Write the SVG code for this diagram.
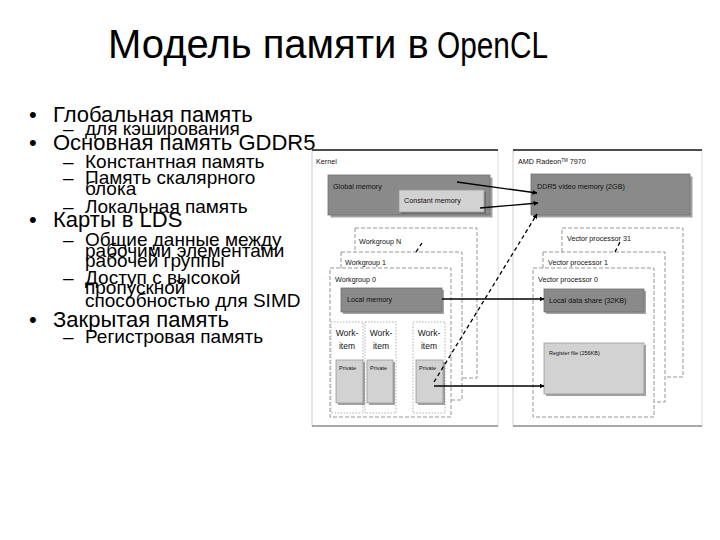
<svg xmlns="http://www.w3.org/2000/svg" width="720" height="540" viewBox="0 0 720 540">
<style>
text{font-family:"Liberation Sans",Arial,sans-serif;fill:#000}
.b{font-size:22px}
.s{font-size:19px}
.lab{font-size:7.2px;fill:#111}
.wi{font-size:8.5px;fill:#111;text-anchor:middle}
.pv{font-size:5.5px;fill:#111}
.dark{fill:#8a8a8a;stroke:#6f6f6f;stroke-width:0.8}
.light{fill:#d2d2d2;stroke:#9a9a9a;stroke-width:0.8}
.sh{fill:#555;opacity:0.55}
.dash{fill:#fff;stroke:#8a8a8a;stroke-width:0.9;stroke-dasharray:4 2}
.dot{fill:none;stroke:#a0a0a0;stroke-width:0.8;stroke-dasharray:1.5 1.5}
.con{stroke:#000;stroke-width:1.3;fill:none}
.cond{stroke:#000;stroke-width:1.3;fill:none;stroke-dasharray:4 3}
</style>
<defs>
<marker id="ah" viewBox="0 0 10 10" refX="9" refY="5" markerWidth="5" markerHeight="5" orient="auto" markerUnits="userSpaceOnUse">
<path d="M0,0 L10,5 L0,10 z" fill="#000"/>
</marker>
</defs>
<rect width="720" height="540" fill="#fff"/>

<g id="title">
<text x="108" y="58" font-size="40">Модель памяти в </text>
<text x="437" y="58" font-size="37" textLength="111" lengthAdjust="spacingAndGlyphs">OpenCL</text>
</g>

<g id="bullets">
<text x="29" y="122" class="b">•</text><text x="53" y="122" class="b">Глобальная память</text>
<text x="63" y="135" class="s">–</text><text x="85" y="135" class="s">для кэширования</text>
<text x="29" y="150" class="b">•</text><text x="53" y="150" class="b">Основная память GDDR5</text>
<text x="63" y="168" class="s">–</text><text x="85" y="168" class="s">Константная память</text>
<text x="63" y="184" class="s">–</text><text x="85" y="184" class="s">Память скалярного</text>
<text x="85" y="195" class="s">блока</text>
<text x="63" y="213" class="s">–</text><text x="85" y="213" class="s">Локальная память</text>
<text x="29" y="227" class="b">•</text><text x="53" y="227" class="b">Карты в LDS</text>
<text x="63" y="246" class="s">–</text><text x="85" y="246" class="s">Общие данные между</text>
<text x="85" y="256.5" class="s">рабочими элементами</text>
<text x="85" y="267" class="s">рабочей группы</text>
<text x="63" y="284" class="s">–</text><text x="85" y="284" class="s">Доступ с высокой</text>
<text x="85" y="293.5" class="s">пропускной</text>
<text x="85" y="307" class="s">способностью для SIMD</text>
<text x="29" y="326.5" class="b">•</text><text x="53" y="326.5" class="b">Закрытая память</text>
<text x="63" y="343" class="s">–</text><text x="85" y="343" class="s">Регистровая память</text>
</g>

<g id="kernel-panel">
<line x1="312" y1="150" x2="312" y2="426" stroke="#ccc" stroke-width="1"/>
<line x1="498" y1="150" x2="498" y2="426" stroke="#ddd" stroke-width="1"/>
<line x1="312" y1="150" x2="498" y2="150" stroke="#111" stroke-width="1.5"/>
<line x1="312" y1="426" x2="498" y2="426" stroke="#555" stroke-width="1.2"/>
<text x="316" y="164" class="lab">Kernel</text>
</g>

<g id="global-memory">
<rect x="330.5" y="177.5" width="162" height="40" class="sh"/>
<rect x="328" y="175" width="162" height="40" class="dark"/>
<text x="333" y="189" class="lab">Global memory</text>
</g>
<g id="constant-memory">
<rect x="401" y="192" width="85" height="22" class="sh"/>
<rect x="399" y="190" width="85" height="22" class="light"/>
<text x="404" y="203" class="lab">Constant memory</text>
</g>

<g id="workgroup-n">
<rect x="355" y="228" width="122" height="150" class="dash"/>
<text x="359" y="244" class="lab">Workgroup N</text>
</g>
<g id="workgroup-1">
<rect x="341" y="252" width="121" height="148" class="dash"/>
<text x="345" y="265" class="lab">Workgroup 1</text>
</g>
<g id="workgroup-0">
<rect x="330" y="268" width="121" height="149" class="dash"/>
<text x="335" y="282" class="lab">Workgroup 0</text>
</g>
<g id="local-memory">
<rect x="343" y="290" width="101" height="24" class="sh"/>
<rect x="341" y="288" width="101" height="24" class="dark"/>
<text x="347" y="302" class="lab">Local memory</text>
</g>

<g id="work-item-1">
<rect x="331" y="322" width="32" height="91" class="dot"/>
<text x="347" y="336" class="wi">Work-</text>
<text x="347" y="349" class="wi">item</text>
<rect x="338" y="362" width="27" height="43" class="sh"/>
<rect x="336" y="360" width="27" height="43" class="light"/>
<text x="339" y="370" class="pv">Private</text>
</g>
<g id="work-item-2">
<rect x="365" y="322" width="31" height="91" class="dot"/>
<text x="381" y="336" class="wi">Work-</text>
<text x="381" y="349" class="wi">item</text>
<rect x="369" y="362" width="26" height="43" class="sh"/>
<rect x="367" y="360" width="26" height="43" class="light"/>
<text x="370" y="370" class="pv">Private</text>
</g>
<g id="work-item-n">
<rect x="413" y="322" width="32" height="91" class="dot"/>
<text x="429" y="336" class="wi">Work-</text>
<text x="429" y="349" class="wi">item</text>
<rect x="418" y="362" width="27" height="43" class="sh"/>
<rect x="416" y="360" width="27" height="43" class="light"/>
<text x="419" y="370" class="pv">Private</text>
</g>

<g id="gpu-panel">
<line x1="513" y1="150" x2="513" y2="426" stroke="#ccc" stroke-width="1"/>
<line x1="702" y1="150" x2="702" y2="426" stroke="#ddd" stroke-width="1"/>
<line x1="513" y1="150" x2="702" y2="150" stroke="#111" stroke-width="1.5"/>
<line x1="513" y1="426" x2="702" y2="426" stroke="#555" stroke-width="1.2"/>
<text x="518" y="164" class="lab">AMD Radeon<tspan font-size="4.5" dy="-2.5">TM</tspan><tspan dy="2.5"> 7970</tspan></text>
</g>
<g id="ddr5">
<rect x="533.5" y="176.5" width="159" height="41" class="sh"/>
<rect x="531" y="174" width="159" height="41" class="dark"/>
<text x="537" y="189" class="lab">DDR5 video memory (2GB)</text>
</g>
<g id="vp-31">
<rect x="562" y="228" width="121" height="149" class="dash"/>
<text x="567" y="241" class="lab">Vector processor 31</text>
</g>
<g id="vp-1">
<rect x="543" y="252" width="122" height="150" class="dash"/>
<text x="548" y="265" class="lab">Vector processor 1</text>
</g>
<g id="vp-0">
<rect x="533" y="268" width="121" height="149" class="dash"/>
<text x="538" y="282" class="lab">Vector processor 0</text>
</g>
<g id="lds">
<rect x="546" y="291" width="100" height="23" class="sh"/>
<rect x="544" y="289" width="100" height="23" class="dark"/>
<text x="549" y="303" class="lab">Local data share (32KB)</text>
</g>
<g id="register-file">
<rect x="546" y="345" width="100" height="51" class="sh"/>
<rect x="544" y="343" width="100" height="51" class="light"/>
<text x="549" y="355" class="pv" font-size="6">Register file (256KB)</text>
</g>

<g id="connectors">
<line x1="457" y1="182" x2="537" y2="193" class="con" marker-end="url(#ah)"/>
<line x1="480" y1="208" x2="538" y2="203" class="con" marker-end="url(#ah)"/>
<line x1="434" y1="382" x2="537" y2="214" class="cond" marker-end="url(#ah)"/>
<line x1="442" y1="299" x2="544" y2="299" class="con" marker-end="url(#ah)"/>
<line x1="434" y1="386" x2="544" y2="386" class="con" marker-end="url(#ah)"/>
<line x1="416" y1="252" x2="422" y2="243" class="cond" stroke-width="1" stroke-dasharray="2 1.5"/>
<line x1="615" y1="252" x2="620" y2="242" class="cond" stroke-width="1" stroke-dasharray="2 1.5"/>
</g>
</svg>
